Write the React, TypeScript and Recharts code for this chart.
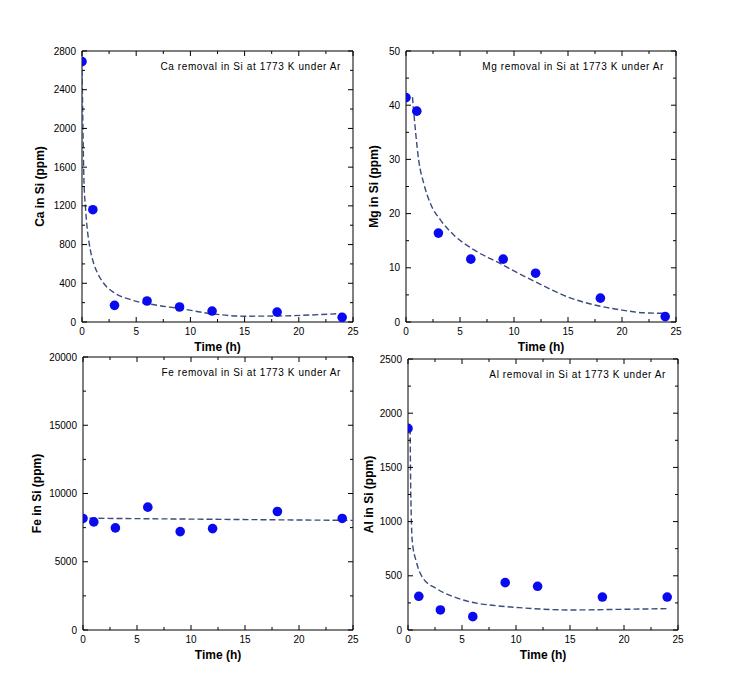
import { ComposedChart, Line, ReferenceArea, Scatter, XAxis, YAxis } from "recharts";

const FONT = '"Liberation Sans", Arial, Helvetica, sans-serif';
const FIT_COLOR = "#3b4c7c";
const DOT_COLOR = "#0a0aef";

// sampling times (h)
const times = [0, 1, 3, 6, 9, 12, 18, 24];

// measured concentrations (ppm)
const caPpm = [2690, 1160, 172, 217, 155, 113, 103, 48];
const mgPpm = [41.4, 38.9, 16.4, 11.6, 11.6, 9.0, 4.4, 1.0];
const fePpm = [8170, 7920, 7480, 9000, 7210, 7430, 8680, 8170];
const alPpm = [1860, 311, 185, 123, 437, 403, 304, 304];

// fitted curves
const caFitT = [0, 0.08, 0.18, 0.31, 0.45, 0.68, 1.08, 1.5, 2, 3, 4.5, 6.8, 9, 12, 15, 18, 21, 24];
const caFitV = [2700, 2050, 1465, 1200, 1000, 800, 605, 490, 400, 300, 230, 175, 140, 85, 60, 62, 72, 88];
const mgFitT = [0.6, 0.75, 0.9, 1.17, 1.64, 2.25, 3.2, 4.4, 6.3, 8.7, 10.3, 12, 15, 18, 20, 22, 24];
const mgFitV = [41.5, 38, 34.8, 29.9, 25.6, 21.9, 18.8, 16.1, 13.3, 10.8, 9.1, 7.4, 4.6, 2.9, 2.2, 1.7, 1.6];
const feFitT = [0.6, 12, 25];
const feFitV = [8190, 8110, 8030];
const alFitT = [0.2, 0.24, 0.3, 0.4, 0.77, 1.4, 2.6, 4.2, 5.7, 8.2, 10.3, 15, 20, 24];
const alFitV = [1860, 1400, 1060, 815, 630, 477, 384, 307, 261, 224, 206, 185, 191, 197];

// axis ticks (major + minor)
const timeTicks = [0, 2.5, 5, 7.5, 10, 12.5, 15, 17.5, 20, 22.5, 25];
const caTicks = [0, 200, 400, 600, 800, 1000, 1200, 1400, 1600, 1800, 2000, 2200, 2400, 2600, 2800];
const mgTicks = [0, 5, 10, 15, 20, 25, 30, 35, 40, 45, 50];
const feTicks = [0, 2500, 5000, 7500, 10000, 12500, 15000, 17500, 20000];
const alTicks = [0, 250, 500, 750, 1000, 1250, 1500, 1750, 2000, 2250, 2500];

const toRows = (xs: number[], ys: number[]) => xs.map((x, i) => ({ x, y: ys[i] }));

function XTick(props: any) {
  const { x, y, payload, plotH } = props;
  const v = payload.value;
  const major = v % 5 === 0;
  const len = major ? 5 : 3;
  return (
    <g>
      <line x1={x} x2={x} y1={y} y2={y - len} stroke="#000" />
      <line x1={x} x2={x} y1={y - plotH} y2={y - plotH + len} stroke="#000" />
      {major && (
        <text x={x} y={y + 12.5} textAnchor="middle" fontSize={10} fontFamily={FONT} fill="#000">
          {v}
        </text>
      )}
    </g>
  );
}

function YTick(props: any) {
  const { x, y, payload, plotW, majorStep } = props;
  const v = payload.value;
  const major = v % majorStep === 0;
  const len = major ? 5 : 3;
  return (
    <g>
      <line x1={x} x2={x + len} y1={y} y2={y} stroke="#000" />
      <line x1={x + plotW} x2={x + plotW - len} y1={y} y2={y} stroke="#000" />
      {major && (
        <text x={x - 6} y={y + 3.5} textAnchor="end" fontSize={10} fontFamily={FONT} fill="#000">
          {v}
        </text>
      )}
    </g>
  );
}

function Dot(props: any) {
  return <circle cx={props.cx} cy={props.cy} r={4.8} fill={DOT_COLOR} />;
}

function Panel({
  plotLeft,
  plotTop,
  plotW,
  plotH,
  points,
  fit,
  yMax,
  yTicks,
  majorStep,
  yLabel,
  yLabelOffset,
  title,
}: {
  plotLeft: number;
  plotTop: number;
  plotW: number;
  plotH: number;
  points: { x: number; y: number }[];
  fit: { x: number; y: number }[];
  yMax: number;
  yTicks: number[];
  majorStep: number;
  yLabel: string;
  yLabelOffset: number;
  title: string;
}) {
  return (
    <div style={{ position: "absolute", left: plotLeft - 80, top: plotTop - 20 }}>
      <ComposedChart
        width={plotW + 90}
        height={plotH + 65}
        margin={{ top: 20, right: 10, bottom: 0, left: 20 }}
      >
        <XAxis
          dataKey="x"
          type="number"
          domain={[0, 25]}
          ticks={timeTicks}
          interval={0}
          allowDataOverflow
          axisLine={false}
          tickLine={false}
          tickSize={0}
          tickMargin={0}
          height={45}
          tick={(p: any) => <XTick {...p} plotH={plotH} />}
          label={{
            value: "Time (h)",
            position: "insideBottom",
            offset: 16,
            style: { fontWeight: 700, fontSize: 12, fontFamily: FONT, fill: "#000" },
          }}
        />
        <YAxis
          dataKey="y"
          type="number"
          domain={[0, yMax]}
          ticks={yTicks}
          interval={0}
          allowDataOverflow
          axisLine={false}
          tickLine={false}
          tickSize={0}
          tickMargin={0}
          width={60}
          tick={(p: any) => <YTick {...p} plotW={plotW} majorStep={majorStep} />}
          label={{
            value: yLabel,
            angle: -90,
            position: "insideLeft",
            offset: yLabelOffset,
            style: { textAnchor: "middle", fontWeight: 700, fontSize: 12, fontFamily: FONT, fill: "#000" },
          }}
        />
        <ReferenceArea
          x1={0}
          x2={25}
          y1={0}
          y2={yMax}
          fill="none"
          stroke="#000"
          strokeWidth={1}
          label={{
            value: title,
            position: "insideTopRight",
            offset: 12,
            style: { fontSize: 10, fontFamily: FONT, fill: "#000", letterSpacing: "0.6px" },
          }}
        />
        <Line
          data={fit}
          dataKey="y"
          type="monotone"
          stroke={FIT_COLOR}
          strokeWidth={1.4}
          strokeDasharray="6 3"
          dot={false}
          activeDot={false}
          isAnimationActive={false}
        />
        <Scatter data={points} dataKey="y" shape={Dot} isAnimationActive={false} />
      </ComposedChart>
    </div>
  );
}

export default function App() {
  return (
    <div
      style={{
        position: "absolute",
        left: 0,
        top: 0,
        width: 729,
        height: 695,
        background: "#fff",
        fontFamily: FONT,
      }}
    >
      <Panel
        plotLeft={82}
        plotTop={51}
        plotW={271}
        plotH={271}
        points={toRows(times, caPpm)}
        fit={toRows(caFitT, caFitV)}
        yMax={2800}
        yTicks={caTicks}
        majorStep={400}
        yLabel="Ca in Si (ppm)"
        yLabelOffset={18}
        title="Ca removal in Si at 1773 K under Ar"
      />
      <Panel
        plotLeft={406}
        plotTop={51}
        plotW={270}
        plotH={271}
        points={toRows(times, mgPpm)}
        fit={toRows(mgFitT, mgFitV)}
        yMax={50}
        yTicks={mgTicks}
        majorStep={10}
        yLabel="Mg in Si (ppm)"
        yLabelOffset={28}
        title="Mg removal in Si at 1773 K under Ar"
      />
      <Panel
        plotLeft={83}
        plotTop={357}
        plotW={270}
        plotH={273}
        points={toRows(times, fePpm)}
        fit={toRows(feFitT, feFitV)}
        yMax={20000}
        yTicks={feTicks}
        majorStep={5000}
        yLabel="Fe in Si (ppm)"
        yLabelOffset={14}
        title="Fe removal in Si at 1773 K under Ar"
      />
      <Panel
        plotLeft={408}
        plotTop={359}
        plotW={270}
        plotH={271}
        points={toRows(times, alPpm)}
        fit={toRows(alFitT, alFitV)}
        yMax={2500}
        yTicks={alTicks}
        majorStep={500}
        yLabel="Al in Si (ppm)"
        yLabelOffset={21}
        title="Al removal in Si at 1773 K under Ar"
      />
    </div>
  );
}
